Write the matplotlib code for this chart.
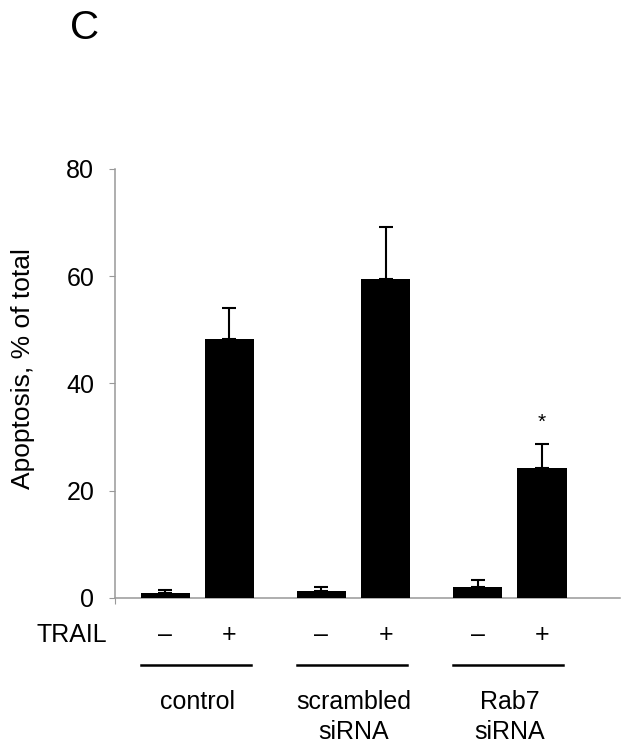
import numpy as np
import matplotlib.pyplot as plt

plt.rcParams['font.family'] = ['Liberation Sans', 'DejaVu Sans']

groups = ['control', 'scrambled\nsiRNA', 'Rab7\nsiRNA']
trail = ['–', '+']
apoptosis = [1.0, 48.3, 1.3, 59.4, 2.1, 24.2]
err = [0.5, 5.7, 0.8, 9.8, 1.3, 4.5]
signif = [False, False, False, False, False, True]
yticks = [0, 20, 40, 60, 80]

fig = plt.figure(figsize=(6.29, 7.52), dpi=100)
ax = fig.add_axes([0.1828, 0.2048, 0.8030, 0.5705])

w = 0.315
x = np.array([g + o for g in range(len(groups)) for o in (-0.205, 0.205)])
ax.bar(x, apoptosis, width=w, color='black', zorder=3)
ax.errorbar(x, apoptosis, yerr=[np.zeros(len(err)), err], fmt='none',
            ecolor='black', elinewidth=1.5, capsize=5, capthick=1.5, zorder=2)
for xi, v, e, s in zip(x, apoptosis, err, signif):
    if s:
        ax.text(xi, v + e + 2.2, '*', ha='center', va='bottom', fontsize=15)

x0, x1 = -0.526, 2.705
ax.set_xlim(x0, x1)
ax.set_ylim(0, 80)
ax.set_yticks(yticks)
ax.set_xticks([x0])
ax.set_xticklabels([])
ax.tick_params(axis='y', labelsize=18, length=4, color='#999999', pad=11)
ax.tick_params(axis='x', length=4, color='#999999')
for side in ['top', 'right']:
    ax.spines[side].set_visible(False)
for side in ['left', 'bottom']:
    ax.spines[side].set_color('#999999')
    ax.spines[side].set_linewidth(1.1)
ax.set_ylabel('Apoptosis, % of total', fontsize=19)
ax.yaxis.set_label_coords(-0.159, 0.534)

# TRAIL row, group lines and labels below the axis
tr = ax.get_xaxis_transform()
ax.text(-0.577, -0.103, 'TRAIL', transform=tr, ha='right', va='baseline',
        fontsize=18, clip_on=False)
for i, xi in enumerate(x):
    ax.text(xi, -0.103, trail[i % 2], transform=tr, ha='center', va='baseline',
            fontsize=18, clip_on=False)
for g, name in enumerate(groups):
    left = x[2 * g] - w / 2
    right = x[2 * g + 1] + w / 2
    ax.plot([left, right - 0.02], [-0.157, -0.157], transform=tr,
            color='black', lw=1.8, clip_on=False)
    for k, line in enumerate(name.split('\n')):
        ax.text((left + right) / 2, -0.2576 - 0.0703 * k, line, transform=tr,
                ha='center', va='baseline', fontsize=18, clip_on=False)

fig.text(0.111, 0.963, 'C', fontsize=29, va='center', ha='left')

fig.savefig('out.png', dpi=100)
